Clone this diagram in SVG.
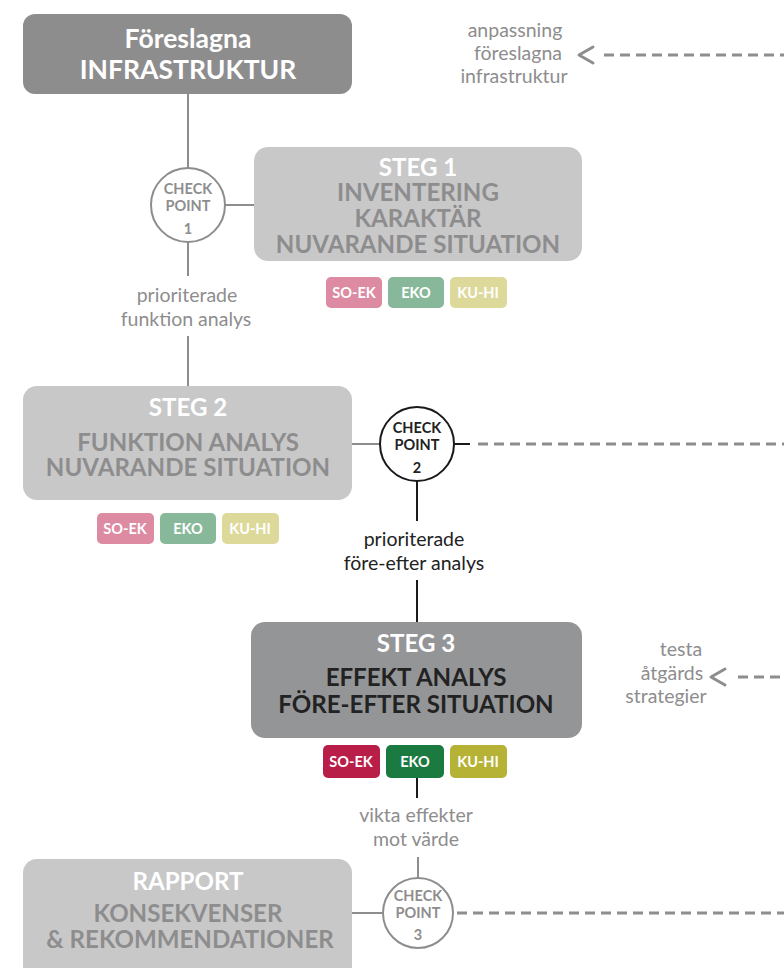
<svg xmlns="http://www.w3.org/2000/svg" width="784" height="968" viewBox="0 0 784 968">
<style>
text{font-family:Lato,"Open Sans","Liberation Sans",sans-serif;text-anchor:middle}
.t{font-weight:bold;font-size:24.1px}
.h{font-weight:bold;font-size:26.5px}
.w{fill:#ffffff}
.g{fill:#8e8d8e}
.k{fill:#222222}
.tag{font-weight:bold;font-size:14.5px;fill:#ffffff}
.lbl{font-size:19.5px}
.cp{font-weight:bold;font-size:14.5px}
.sg{stroke:#8e8d8e;stroke-width:2;fill:none}
.sk{stroke:#1a1a1a;stroke-width:2;fill:none}
.dash{stroke:#8e8d8e;stroke-width:3;stroke-dasharray:10 6;fill:none}
.chev{stroke:#8e8d8e;stroke-width:3;fill:none;stroke-linecap:round;stroke-linejoin:round}
</style>
<rect width="784" height="968" fill="#ffffff"/>
<g id="connectors">
<line class="sg" x1="188" y1="94" x2="188" y2="168"/>
<line class="sg" x1="225" y1="205" x2="254" y2="205"/>
<line class="sg" x1="188" y1="242" x2="188" y2="276"/>
<line class="sg" x1="188" y1="336" x2="188" y2="386"/>
<line class="sg" x1="352" y1="444" x2="380" y2="444"/>
<line class="sk" x1="454" y1="444" x2="470" y2="444"/>
<line class="dash" x1="478" y1="444" x2="784" y2="444"/>
<line class="sk" x1="417" y1="481" x2="417" y2="521"/>
<line class="sk" x1="417" y1="580" x2="417" y2="622"/>
<line class="sk" x1="417" y1="778" x2="417" y2="798"/>
<line class="sg" x1="418" y1="857" x2="418" y2="878"/>
<line class="sg" x1="352" y1="913" x2="383" y2="913"/>
<line class="dash" x1="457" y1="913" x2="784" y2="913"/>
<line class="dash" x1="604" y1="55" x2="784" y2="55"/>
<polyline class="chev" points="593,47 579,55 593,63"/>
<line class="dash" x1="738" y1="677" x2="784" y2="677"/>
<polyline class="chev" points="725,669 711,677 725,685"/>
</g>
<g id="infra">
<rect x="23" y="14" width="329" height="80" rx="12" fill="#8e8d8e"/>
<text class="h w" x="188" y="48">Föreslagna</text>
<text class="h w" x="188" y="79">INFRASTRUKTUR</text>
</g>
<g id="cp1">
<circle cx="188" cy="205" r="37" fill="#ffffff" stroke="#8e8d8e" stroke-width="2"/>
<text class="cp g" x="188" y="194">CHECK</text>
<text class="cp g" x="188" y="211">POINT</text>
<text class="cp g" x="188" y="234">1</text>
</g>
<g id="steg1">
<rect x="254" y="147" width="328" height="114" rx="14" fill="#c8c8c9"/>
<text class="t w" x="418" y="176">STEG 1</text>
<text class="t g" x="418" y="201">INVENTERING</text>
<text class="t g" x="418" y="227">KARAKTÄR</text>
<text class="t g" x="418" y="253">NUVARANDE SITUATION</text>
</g>
<g id="tags1">
<rect x="326" y="277" width="56" height="31" rx="5" fill="#dc8ba2"/>
<text class="tag" x="354" y="298">SO-EK</text>
<rect x="388" y="277" width="56" height="31" rx="5" fill="#88b89a"/>
<text class="tag" x="416" y="298">EKO</text>
<rect x="450" y="277" width="57" height="31" rx="5" fill="#dcd99b"/>
<text class="tag" x="478" y="298">KU-HI</text>
</g>
<g id="label1">
<text class="lbl g" x="187" y="302">prioriterade</text>
<text class="lbl g" x="186" y="326">funktion analys</text>
</g>
<g id="steg2">
<rect x="23" y="386" width="329" height="114" rx="14" fill="#c8c8c9"/>
<text class="t w" x="188" y="416">STEG 2</text>
<text class="t g" x="188" y="451">FUNKTION ANALYS</text>
<text class="t g" x="188" y="476">NUVARANDE SITUATION</text>
</g>
<g id="tags2">
<rect x="97" y="513" width="57" height="31" rx="5" fill="#dc8ba2"/>
<text class="tag" x="125" y="534">SO-EK</text>
<rect x="160" y="513" width="56" height="31" rx="5" fill="#88b89a"/>
<text class="tag" x="188" y="534">EKO</text>
<rect x="222" y="513" width="57" height="31" rx="5" fill="#dcd99b"/>
<text class="tag" x="250" y="534">KU-HI</text>
</g>
<g id="cp2">
<circle cx="417" cy="444" r="37" fill="#ffffff" stroke="#1a1a1a" stroke-width="2"/>
<text class="cp k" x="417" y="433">CHECK</text>
<text class="cp k" x="417" y="450">POINT</text>
<text class="cp k" x="417" y="473">2</text>
</g>
<g id="label2">
<text class="lbl k" x="414" y="546">prioriterade</text>
<text class="lbl k" x="414" y="570">före-efter analys</text>
</g>
<g id="steg3">
<rect x="251" y="622" width="331" height="116" rx="14" fill="#949597"/>
<text class="t w" x="416" y="652">STEG 3</text>
<text class="t k" x="416" y="686">EFFEKT ANALYS</text>
<text class="t k" x="416" y="713">FÖRE-EFTER SITUATION</text>
</g>
<g id="tags3">
<rect x="323" y="745" width="57" height="33" rx="5" fill="#b81e48"/>
<text class="tag" x="351" y="767">SO-EK</text>
<rect x="386" y="745" width="58" height="33" rx="5" fill="#1a7a40"/>
<text class="tag" x="415" y="767">EKO</text>
<rect x="450" y="745" width="57" height="33" rx="5" fill="#b5b235"/>
<text class="tag" x="478" y="767">KU-HI</text>
</g>
<g id="label3">
<text class="lbl g" x="416" y="822">vikta effekter</text>
<text class="lbl g" x="416" y="846">mot värde</text>
</g>
<g id="rapport">
<rect x="23" y="859" width="329" height="124" rx="14" fill="#c8c8c9"/>
<text class="t w" x="188" y="890">RAPPORT</text>
<text class="t g" x="188" y="922">KONSEKVENSER</text>
<text class="t g" x="190" y="948">&amp; REKOMMENDATIONER</text>
</g>
<g id="cp3">
<circle cx="418" cy="913" r="35" fill="#ffffff" stroke="#8e8d8e" stroke-width="2"/>
<text class="cp g" x="418" y="901">CHECK</text>
<text class="cp g" x="418" y="918">POINT</text>
<text class="cp g" x="418" y="940">3</text>
</g>
<g id="anpassning">
<text class="lbl g" x="515" y="37">anpassning</text>
<text class="lbl g" x="518" y="60">föreslagna</text>
<text class="lbl g" x="514" y="83">infrastruktur</text>
</g>
<g id="testa">
<text class="lbl g" x="681" y="656">testa</text>
<text class="lbl g" x="672" y="680">åtgärds</text>
<text class="lbl g" x="666" y="703">strategier</text>
</g>
</svg>
